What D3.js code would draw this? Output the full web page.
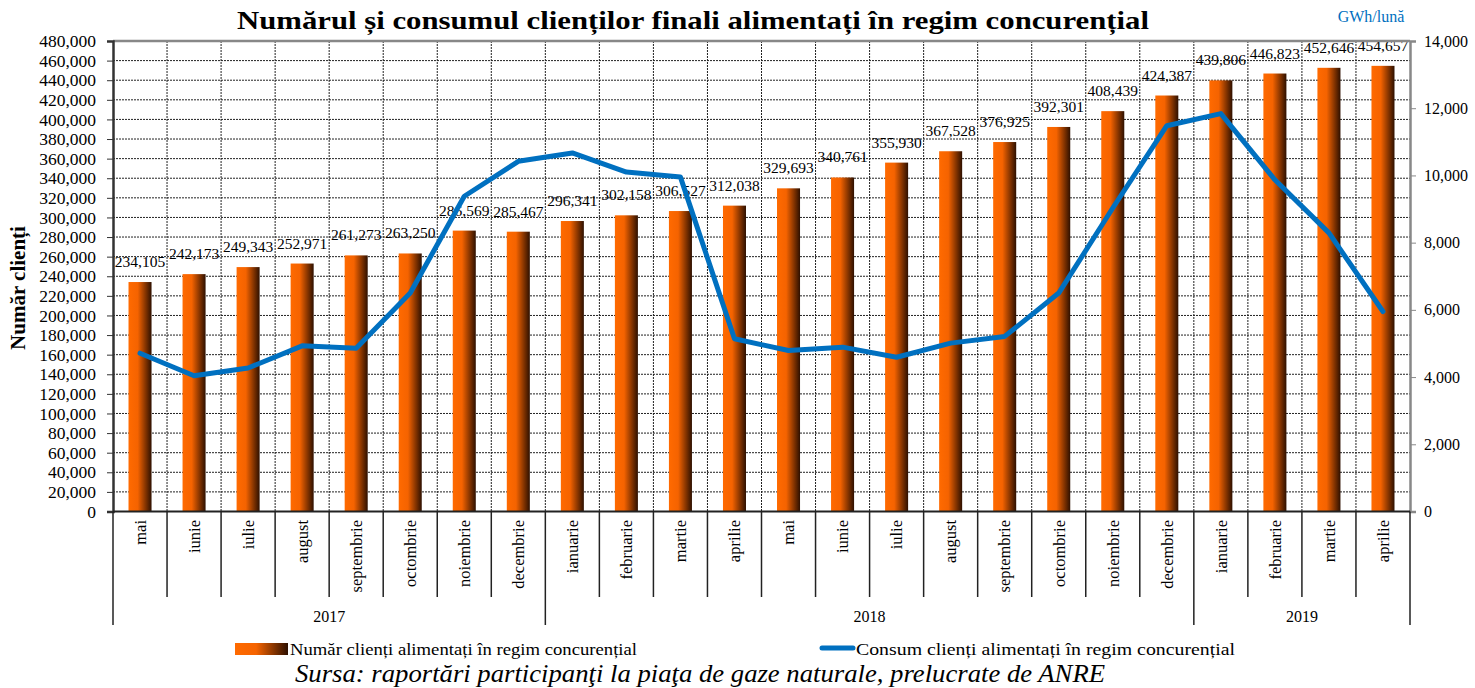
<!DOCTYPE html>
<html>
<head>
<meta charset="utf-8">
<script src="https://cdnjs.cloudflare.com/ajax/libs/d3/7.8.5/d3.min.js"></script>
<style>
  body { margin: 0; background: #fff; }
  text { font-family: "Liberation Serif", "Times New Roman", serif; fill: #000; }
</style>
</head>
<body>
<div id="chart"></div>
<script>
// ---------------------------------------------------------------
// Date
// ---------------------------------------------------------------
const months = ["mai", "iunie", "iulie", "august", "septembrie", "octombrie", "noiembrie", "decembrie",
  "ianuarie", "februarie", "martie", "aprilie", "mai", "iunie", "iulie", "august", "septembrie",
  "octombrie", "noiembrie", "decembrie", "ianuarie", "februarie", "martie", "aprilie"];

const years = [
  { year: "2017", count: 8 },
  { year: "2018", count: 12 },
  { year: "2019", count: 4 }
];

// numar clienti
const clients = [234105, 242173, 249343, 252971, 261273, 263250, 286569, 285467,
  296341, 302158, 306527, 312038, 329693, 340761, 355930, 367528, 376925,
  392301, 408439, 424387, 439806, 446823, 452646, 454657];

// consum GWh/luna
const consum = [4710, 4040, 4270, 4930, 4860, 6500, 9380, 10420,
  10670, 10100, 9950, 5140, 4790, 4890, 4590, 5010, 5210,
  6500, 9030, 11480, 11840, 9870, 8290, 5950];

const leftTicks = d3.range(0, 480001, 20000);
const rightTicks = d3.range(0, 14001, 2000);

// ---------------------------------------------------------------
// SVG
// ---------------------------------------------------------------
const W = 1475, H = 688;
const plot = { left: 113, right: 1410, top: 41, bottom: 511.5 };

const svg = d3.select("#chart").append("svg")
  .attr("width", W)
  .attr("height", H);

const defs = svg.append("defs");
const grad = defs.append("linearGradient")
  .attr("id", "barGrad")
  .attr("x1", "0%").attr("x2", "100%")
  .attr("y1", "0%").attr("y2", "0%");
grad.append("stop").attr("offset", "0%").attr("stop-color", "#FF6A00");
grad.append("stop").attr("offset", "40%").attr("stop-color", "#F56300");
grad.append("stop").attr("offset", "100%").attr("stop-color", "#2E1000");

const x = d3.scaleBand()
  .domain(d3.range(months.length))
  .range([plot.left, plot.right])
  .paddingInner(0.574)
  .paddingOuter(0.287);

const step = x.step();
const edge = i => plot.left + i * step;   // granita intre categorii

const yL = d3.scaleLinear().domain([0, 480000]).range([plot.bottom, plot.top]);
const yR = d3.scaleLinear().domain([0, 14000]).range([plot.bottom, plot.top]);

// ---------------------------------------------------------------
// Grid
// ---------------------------------------------------------------
svg.append("g")
  .selectAll("line")
  .data(leftTicks.slice(1, -1))
  .join("line")
  .attr("x1", plot.left).attr("x2", plot.right)
  .attr("y1", d => yL(d)).attr("y2", d => yL(d))
  .attr("stroke", "#222")
  .attr("stroke-width", 1)
  .attr("stroke-dasharray", "2,1");

svg.append("g")
  .selectAll("line")
  .data(d3.range(1, months.length))
  .join("line")
  .attr("x1", d => edge(d)).attr("x2", d => edge(d))
  .attr("y1", plot.top).attr("y2", plot.bottom)
  .attr("stroke", "#222")
  .attr("stroke-width", 1)
  .attr("stroke-dasharray", "2,1");

// ---------------------------------------------------------------
// Bare
// ---------------------------------------------------------------
svg.append("g")
  .selectAll("rect")
  .data(clients)
  .join("rect")
  .attr("x", (d, i) => x(i))
  .attr("width", x.bandwidth())
  .attr("y", d => yL(d))
  .attr("height", d => plot.bottom - yL(d))
  .attr("fill", "url(#barGrad)");

svg.append("g")
  .selectAll("text")
  .data(clients)
  .join("text")
  .attr("x", (d, i) => x(i) + x.bandwidth() / 2)
  .attr("y", d => yL(d) - 15)
  .attr("text-anchor", "middle")
  .attr("font-size", "15.5px")
  .text(d => d3.format(",")(d));

// ---------------------------------------------------------------
// Linia de consum
// ---------------------------------------------------------------
const line = d3.line()
  .x((d, i) => x(i) + x.bandwidth() / 2)
  .y(d => yR(d));

svg.append("path")
  .datum(consum)
  .attr("d", line)
  .attr("fill", "none")
  .attr("stroke", "#0070C0")
  .attr("stroke-width", 5)
  .attr("stroke-linejoin", "round")
  .attr("stroke-linecap", "round");

// ---------------------------------------------------------------
// Axe
// ---------------------------------------------------------------
// chenar sus (gri)
svg.append("line")
  .attr("x1", plot.left).attr("x2", plot.right)
  .attr("y1", plot.top).attr("y2", plot.top)
  .attr("stroke", "#888").attr("stroke-width", 2.5);

const axL = svg.append("g")
  .attr("transform", `translate(${plot.left},0)`)
  .call(d3.axisLeft(yL).tickValues(leftTicks).tickFormat(d3.format(",")).tickSize(6).tickPadding(11));
axL.select(".domain").attr("stroke", "#333").attr("stroke-width", 2.5);
axL.selectAll(".tick line").attr("stroke", "#333");
axL.selectAll("text")
  .attr("font-family", "'Liberation Serif', 'Times New Roman', serif")
  .attr("font-size", "17.5px")
  .attr("fill", "#000");

const axR = svg.append("g")
  .attr("transform", `translate(${plot.right},0)`)
  .call(d3.axisRight(yR).tickValues(rightTicks).tickFormat(d3.format(",")).tickSize(6).tickPadding(8));
axR.select(".domain").attr("stroke", "#888").attr("stroke-width", 2.5);
axR.selectAll(".tick line").attr("stroke", "#888");
axR.selectAll("text")
  .attr("font-family", "'Liberation Serif', 'Times New Roman', serif")
  .attr("font-size", "16px")
  .attr("fill", "#000");

// axa de jos + separatoare
svg.append("line")
  .attr("x1", plot.left).attr("x2", plot.right)
  .attr("y1", plot.bottom).attr("y2", plot.bottom)
  .attr("stroke", "#222").attr("stroke-width", 2);

svg.append("g")
  .selectAll("line")
  .data(d3.range(0, months.length + 1))
  .join("line")
  .attr("x1", d => edge(d)).attr("x2", d => edge(d))
  .attr("y1", plot.bottom).attr("y2", 597)
  .attr("stroke", "#222").attr("stroke-width", 1.5);

svg.append("g")
  .selectAll("text")
  .data(months)
  .join("text")
  .attr("transform", (d, i) => `translate(${x(i) + x.bandwidth() / 2},520) rotate(-90)`)
  .attr("text-anchor", "end")
  .attr("dy", "0.35em")
  .attr("font-size", "16.5px")
  .text(d => d);

// ani
let start = 0;
const yearPos = years.map(y => {
  const o = { year: y.year, from: start, to: start + y.count };
  start += y.count;
  return o;
});

svg.append("g")
  .selectAll("line")
  .data([0].concat(yearPos.map(d => d.to)))
  .join("line")
  .attr("x1", d => edge(d)).attr("x2", d => edge(d))
  .attr("y1", 597).attr("y2", 625)
  .attr("stroke", "#222").attr("stroke-width", 1.5);

svg.append("g")
  .selectAll("text")
  .data(yearPos)
  .join("text")
  .attr("x", d => (edge(d.from) + edge(d.to)) / 2)
  .attr("y", 622)
  .attr("text-anchor", "middle")
  .attr("font-size", "16px")
  .text(d => d.year);

// ---------------------------------------------------------------
// Titluri
// ---------------------------------------------------------------
svg.append("text")
  .attr("x", 693).attr("y", 29)
  .attr("text-anchor", "middle")
  .attr("font-size", "25px")
  .attr("font-weight", "bold")
  .attr("textLength", 912)
  .attr("lengthAdjust", "spacingAndGlyphs")
  .text("Numărul și consumul clienților finali alimentați în regim concurențial");

svg.append("text")
  .attr("x", 1371).attr("y", 22)
  .attr("text-anchor", "middle")
  .attr("font-size", "16px")
  .style("fill", "#0070C0")
  .text("GWh/lună");

svg.append("text")
  .attr("transform", "translate(25,288) rotate(-90)")
  .attr("text-anchor", "middle")
  .attr("font-size", "21px")
  .attr("font-weight", "bold")
  .text("Număr clienți");

// ---------------------------------------------------------------
// Legenda
// ---------------------------------------------------------------
svg.append("rect")
  .attr("x", 235).attr("y", 643)
  .attr("width", 53).attr("height", 12)
  .attr("fill", "url(#barGrad)");
svg.append("text")
  .attr("x", 290).attr("y", 655)
  .attr("font-size", "17px")
  .attr("textLength", 347)
  .attr("lengthAdjust", "spacingAndGlyphs")
  .text("Număr clienți alimentați în regim concurențial");

svg.append("line")
  .attr("x1", 822).attr("x2", 853)
  .attr("y1", 648).attr("y2", 648)
  .attr("stroke", "#0070C0").attr("stroke-width", 5)
  .attr("stroke-linecap", "round");
svg.append("text")
  .attr("x", 856).attr("y", 655)
  .attr("font-size", "17px")
  .attr("textLength", 379)
  .attr("lengthAdjust", "spacingAndGlyphs")
  .text("Consum clienți alimentați în regim concurențial");

svg.append("text")
  .attr("x", 295).attr("y", 682)
  .attr("font-size", "25px")
  .attr("font-style", "italic")
  .attr("textLength", 810)
  .attr("lengthAdjust", "spacingAndGlyphs")
  .text("Sursa: raportări participanţi la piaţa de gaze naturale, prelucrate de ANRE");
</script>
</body>
</html>
